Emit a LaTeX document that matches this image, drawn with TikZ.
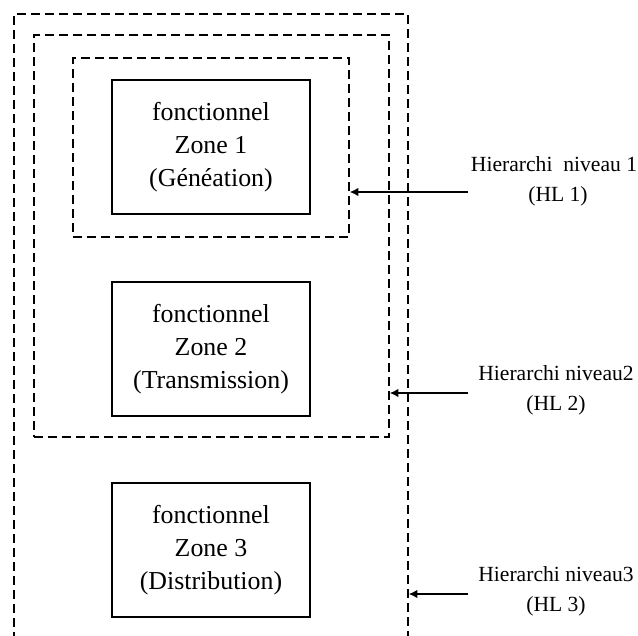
\documentclass[tikz,border=0pt]{standalone}
\usepackage{fontspec}
\setmainfont{Liberation Serif}
\usetikzlibrary{fit,arrows.meta}

\tikzset{
  zonebox/.style={draw, line width=1.1pt, minimum width=148.5pt, minimum height=100.5pt,
    align=center, font=\fontsize{19.4}{24.5}\selectfont, inner sep=0pt},
  levelbox/.style={draw, dashed, dash pattern=on 6.75pt off 3.75pt, line width=1pt, inner sep=0pt},
  levellabel/.style={align=center, font=\fontsize{16.2}{22.5}\selectfont, inner sep=0pt},
  levelarrow/.style={line width=1.6pt, -{Latex[length=6.5pt,width=6.5pt]}}
}

\begin{document}
\begin{tikzpicture}[x=0.75pt, y=-0.75pt]
  \useasboundingbox (0,0) rectangle (638,635);
  \clip (0,0) rectangle (638,635);

  % corners of the three nested hierarchy levels
  \coordinate (i1) at (73,58);   \coordinate (i2) at (349,237);
  \coordinate (m1) at (34,35);   \coordinate (m2) at (389,437);
  \coordinate (o1) at (14,14);   \coordinate (o2) at (408,680);

  \node[levelbox, fit=(i1)(i2)] (inner) {};
  \node[levelbox, fit=(m1)(m2)] (middle) {};
  \node[levelbox, fit=(o1)(o2)] (outer) {};

  % functional zones
  \node[zonebox] (z1) at (211,147) {fonctionnel\\Zone 1\\(Généation)};
  \node[zonebox] (z2) at (211,349) {fonctionnel\\Zone 2\\(Transmission)};
  \node[zonebox] (z3) at (211,550) {fonctionnel\\Zone 3\\(Distribution)};

  % level labels
  \node[levellabel] (l1) at (554,181) {Hierarchi\ \ niveau 1\\\hspace*{6pt}(HL 1)};
  \node[levellabel] (l2) at (556,390) {Hierarchi niveau2\\(HL 2)};
  \node[levellabel] (l3) at (556,591) {Hierarchi niveau3\\(HL 3)};

  % arrow tails
  \coordinate (t1) at (468,192);
  \coordinate (t2) at (468,393);
  \coordinate (t3) at (468,594);

  \draw[levelarrow] (t1) -- (t1 -| inner.east);
  \draw[levelarrow] (t2) -- (t2 -| middle.east);
  \draw[levelarrow] (t3) -- (t3 -| outer.east);
\end{tikzpicture}
\end{document}
